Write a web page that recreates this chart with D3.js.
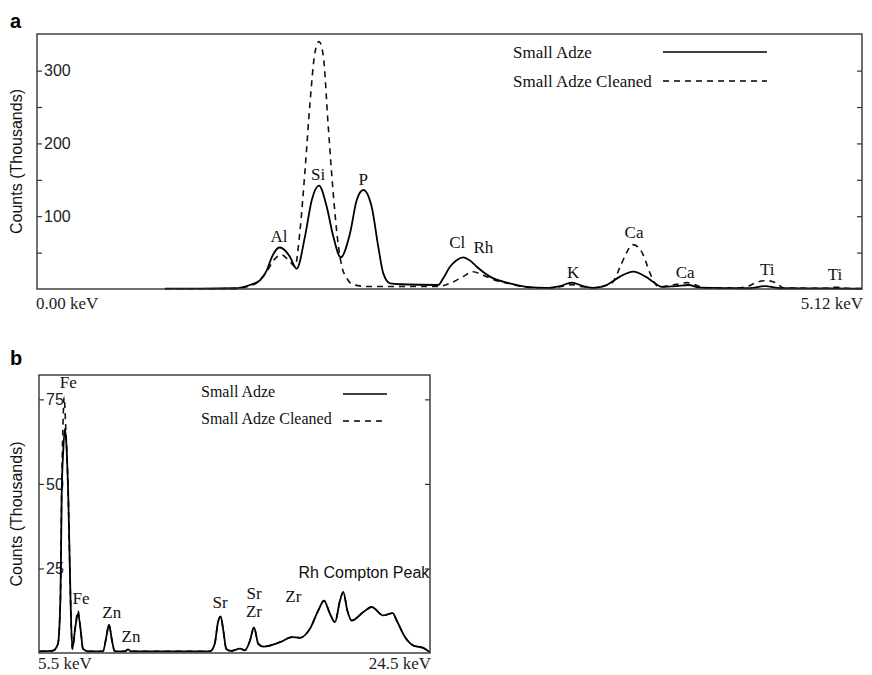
<!DOCTYPE html>
<html>
<head>
<meta charset="utf-8">
<script src="https://cdn.jsdelivr.net/npm/d3@7"></script>
<style>
  body { margin: 0; background: #fff; }
  svg { display: block; }
</style>
</head>
<body>
<svg id="chart" width="872" height="675"></svg>
<script>
// ---------- Panel a: 0–5.12 keV (light elements) ----------
// [energy keV, counts in thousands]
const adzeA = [
  [0.794, 0.5], [1.012, 0.5], [1.229, 1], [1.322, 5.5], [1.384, 12], [1.427, 26],
  [1.458, 44], [1.505, 57], [1.551, 50], [1.570, 44], [1.612, 28], [1.663, 72],
  [1.705, 122], [1.750, 142], [1.798, 113], [1.839, 72], [1.885, 43.5], [1.943, 77],
  [1.984, 122], [2.025, 136], [2.077, 113], [2.118, 58], [2.149, 21.5], [2.191, 7.8],
  [2.253, 6.5], [2.489, 5.5], [2.521, 14.7], [2.563, 30.6], [2.606, 40], [2.646, 43.5],
  [2.687, 39], [2.729, 30.6], [2.811, 17], [2.935, 7.8], [3.039, 3], [3.163, 1.5],
  [3.246, 4], [3.318, 8.7], [3.390, 4], [3.452, 1.5], [3.535, 5.5], [3.618, 17],
  [3.699, 24], [3.784, 16], [3.823, 10], [3.877, 3], [3.970, 4], [4.042, 5.5],
  [4.115, 1.8], [4.425, 1], [4.518, 4], [4.611, 1], [4.952, 0.8], [5.12, 0.5]
];
const adzeCleanedA = [
  [0.794, 0.3], [1.229, 0.5], [1.301, 3], [1.372, 10], [1.426, 24], [1.471, 40],
  [1.514, 47], [1.570, 37.5], [1.601, 31], [1.632, 80], [1.663, 162], [1.694, 255],
  [1.725, 325], [1.750, 340], [1.777, 320], [1.806, 228], [1.839, 130], [1.870, 60],
  [1.893, 30], [1.922, 15], [1.961, 6], [2.046, 3.5], [2.489, 3.5], [2.563, 7.8],
  [2.644, 17], [2.706, 23.8], [2.768, 19], [2.853, 11.4], [2.935, 7], [3.039, 2.5],
  [3.163, 1.3], [3.246, 3], [3.318, 6], [3.390, 3], [3.452, 1.5], [3.535, 5],
  [3.576, 10], [3.618, 30], [3.655, 48], [3.696, 61], [3.729, 58], [3.762, 47],
  [3.805, 21.5], [3.857, 3], [3.970, 6.4], [4.032, 8.7], [4.104, 4], [4.133, 1.5],
  [4.332, 1.2], [4.414, 4], [4.466, 9.2], [4.529, 11.4], [4.591, 7.8], [4.631, 1.5],
  [4.896, 1], [4.962, 2.5], [5.021, 1], [5.12, 0.5]
];
const peakLabelsA = [
  ["Al", 1.502, 65], ["Si", 1.744, 149.7], ["P", 2.025, 142.9], ["Cl", 2.608, 55.9],
  ["Rh", 2.770, 49.9], ["K", 3.328, 14.7], ["Ca", 3.705, 69.6], ["Ca", 4.022, 14.7],
  ["Ti", 4.532, 19.2], ["Ti", 4.952, 12.4]
];
const ticksA = [50, 100, 150, 200, 250, 300];
const labelledTicksA = [100, 200, 300];
const rangeA = ["0.00 keV", "5.12 keV"];

// ---------- Panel b: 5.5–24.5 keV (heavier elements) ----------
const adzeB = [
  [5.5, 0.5], [6.18, 0.7], [6.42, 2.7], [6.545, 17], [6.60, 46], [6.68, 60],
  [6.763, 66.3], [6.845, 60], [6.924, 46], [7.03, 16.5], [7.118, 1.2], [7.264, 7.6],
  [7.395, 11.6], [7.526, 6.7], [7.638, 1.2], [7.881, 0.5], [8.61, 0.5], [8.770, 4.7],
  [8.901, 8.4], [9.047, 3.7], [9.178, 0.5], [9.679, 0.5], [9.825, 1.1], [9.97, 0.5],
  [13.81, 0.5], [14.038, 2.7], [14.198, 9.1], [14.329, 10.8], [14.456, 6.7], [14.601, 1.2],
  [14.844, 0.6], [15.267, 1.3], [15.51, 0.8], [15.753, 3.7], [15.947, 7.6], [16.156, 2.7],
  [16.399, 1.9], [17.211, 3.2], [17.79, 4.7], [18.18, 4.5], [18.669, 7.2], [19.072, 12.6],
  [19.349, 15.5], [19.64, 11.6], [19.883, 9.1], [20.126, 15.5], [20.287, 18], [20.482, 12.6],
  [20.695, 9.6], [21.259, 12.1], [21.667, 13.6], [22.231, 11.1], [22.688, 11.8], [22.882, 9.6],
  [23.285, 4.7], [23.689, 2.2], [24.174, 1.5], [24.5, 0.2]
];
const adzeCleanedB = [
  [5.5, 0.5], [6.18, 0.7], [6.42, 2.7], [6.545, 17], [6.60, 47], [6.66, 66],
  [6.72, 75.7], [6.79, 68], [6.924, 46], [7.03, 16.5], [7.118, 1.2], [7.264, 7.8],
  [7.395, 12.5], [7.526, 6.7], [7.638, 1.2], [7.881, 0.5], [8.61, 0.5], [8.770, 4.7],
  [8.901, 8.4], [9.047, 3.7], [9.178, 0.5], [9.679, 0.5], [9.825, 1.1], [9.97, 0.5],
  [13.81, 0.5], [14.038, 2.7], [14.198, 9.1], [14.329, 10.8], [14.456, 6.7], [14.601, 1.2],
  [14.844, 0.6], [15.267, 1.3], [15.51, 0.8], [15.753, 3.7], [15.947, 7.6], [16.156, 2.7],
  [16.399, 1.9], [17.211, 3.2], [17.79, 4.7], [18.18, 4.5], [18.669, 7.2], [19.072, 12.6],
  [19.349, 15.5], [19.64, 11.6], [19.883, 9.1], [20.126, 15.5], [20.287, 18], [20.482, 12.6],
  [20.695, 9.6], [21.259, 12.1], [21.667, 13.6], [22.231, 11.1], [22.688, 11.8], [22.882, 9.6],
  [23.285, 4.7], [23.689, 2.2], [24.174, 1.5], [24.5, 0.2]
];
const peakLabelsB = [
  ["Fe", 6.924, 78.3], ["Fe", 7.541, 14.5], ["Zn", 9.033, 10.3], ["Zn", 9.97, 3.3],
  ["Sr", 14.295, 13.2], ["Sr", 15.947, 15.9], ["Zr", 15.947, 10.6], ["Zr", 17.857, 15.0]
];
const comptonLabel = ["Rh Compton Peak", 24.466, 22.1];
const ticksB = [25, 50, 75];
const rangeB = ["5.5 keV", "24.5 keV"];

const seriesNames = ["Small Adze", "Small Adze Cleaned"];
const yTitle = "Counts (Thousands)";

// ---------- drawing ----------
const SERIF = "'Liberation Serif','Times New Roman',Times,serif";
const SANS = "'Liberation Sans',Arial,Helvetica,sans-serif";
const svg = d3.select("#chart");

function drawPanel(o) {
  const g = svg.append("g");
  const x = d3.scaleLinear().domain(o.xDomain).range([o.left, o.right]);
  const y = d3.scaleLinear().domain(o.yDomain).range([o.bottom, o.top]);

  // panel letter
  g.append("text").attr("x", 10).attr("y", o.letterY)
    .attr("font-family", SANS).attr("font-weight", "bold").attr("font-size", 20)
    .text(o.letter);

  // y-axis title
  g.append("text")
    .attr("transform", `translate(${o.titleX},${(o.top + o.bottom) / 2 + o.titleShift}) rotate(-90)`)
    .attr("text-anchor", "middle").attr("font-family", SANS).attr("font-size", 16)
    .attr("fill", "#111").text(yTitle);

  // inward ticks on both sides, labels inside on the left
  const left = g.append("g").attr("transform", `translate(${o.left},0)`)
    .call(d3.axisRight(y).tickValues(o.ticks).tickSize(5).tickPadding(2)
      .tickFormat(d => o.labelled.includes(d) ? d : ""));
  left.select(".domain").remove();
  left.selectAll("text").attr("font-family", SANS).attr("font-size", 16).attr("fill", "#222");
  left.selectAll("line").attr("stroke", "#333").attr("stroke-width", 1.2);

  const right = g.append("g").attr("transform", `translate(${o.right},0)`)
    .call(d3.axisLeft(y).tickValues(o.ticks).tickSize(5).tickFormat(""));
  right.select(".domain").remove();
  right.selectAll("line").attr("stroke", "#333").attr("stroke-width", 1.2);

  // spectra
  const line = d3.line().x(d => x(d[0])).y(d => y(d[1])).curve(d3.curveMonotoneX);
  g.append("path").datum(o.cleaned).attr("d", line)
    .attr("fill", "none").attr("stroke", "#111").attr("stroke-width", 1.6)
    .attr("stroke-dasharray", "6,5");
  g.append("path").datum(o.raw).attr("d", line)
    .attr("fill", "none").attr("stroke", "#000").attr("stroke-width", 1.8)
    .attr("stroke-linejoin", "round");

  // frame
  g.append("rect").attr("x", o.left).attr("y", o.top)
    .attr("width", o.right - o.left).attr("height", o.bottom - o.top)
    .attr("fill", "none").attr("stroke", "#333").attr("stroke-width", 1.4);

  // peak labels
  g.selectAll(".pk").data(o.peaks).enter().append("text")
    .attr("x", d => x(d[1])).attr("y", d => y(d[2]))
    .attr("text-anchor", "middle").attr("font-family", SERIF).attr("font-size", o.peakSize)
    .attr("fill", "#111").text(d => d[0]);

  // energy range labels
  g.append("text").attr("x", x(o.xDomain[0]) - 1).attr("y", o.rangeY)
    .attr("font-family", SERIF).attr("font-size", o.rangeSize).attr("fill", "#222")
    .text(o.range[0]);
  g.append("text").attr("x", x(o.xDomain[1]) + 1).attr("y", o.rangeY)
    .attr("text-anchor", "end").attr("font-family", SERIF).attr("font-size", o.rangeSize)
    .attr("fill", "#222").text(o.range[1]);

  // legend
  const lg = g.append("g");
  [0, 1].forEach(i => {
    const ly = o.legend.y + i * o.legend.dy;
    lg.append("text").attr("x", o.legend.x).attr("y", ly)
      .attr("font-family", SERIF).attr("font-size", o.legend.size).attr("fill", "#111")
      .text(seriesNames[i]);
    lg.append("line").attr("x1", o.legend.x1).attr("x2", o.legend.x2)
      .attr("y1", ly - o.legend.lineLift).attr("y2", ly - o.legend.lineLift)
      .attr("stroke", "#000").attr("stroke-width", 1.5)
      .attr("stroke-dasharray", i === 1 ? "6,5" : null);
  });
  return { x, y, g };
}

drawPanel({
  letter: "a", letterY: 28,
  left: 37, right: 862, top: 34, bottom: 289,
  xDomain: [0, 5.12], yDomain: [0, 350.3],
  ticks: ticksA, labelled: labelledTicksA,
  raw: adzeA, cleaned: adzeCleanedA, peaks: peakLabelsA, peakSize: 17,
  titleX: 22, titleShift: 0,
  range: rangeA, rangeY: 309, rangeSize: 17,
  legend: { x: 513, y: 58, dy: 29, size: 17, x1: 663, x2: 767, lineLift: 6 }
});

const pb = drawPanel({
  letter: "b", letterY: 365,
  left: 39, right: 430, top: 375, bottom: 653,
  xDomain: [5.5, 24.5], yDomain: [0, 82.2],
  ticks: ticksB, labelled: ticksB,
  raw: adzeB, cleaned: adzeCleanedB, peaks: peakLabelsB, peakSize: 17,
  titleX: 22, titleShift: 0,
  range: rangeB, rangeY: 669, rangeSize: 17,
  legend: { x: 201, y: 397, dy: 27, size: 16, x1: 343, x2: 387, lineLift: 3 }
});

// Compton scatter annotation (sans-serif)
pb.g.append("text")
  .attr("x", pb.x(comptonLabel[1])).attr("y", pb.y(comptonLabel[2]))
  .attr("text-anchor", "end").attr("font-family", SANS).attr("font-size", 16)
  .attr("fill", "#111").text(comptonLabel[0]);
</script>
</body>
</html>
